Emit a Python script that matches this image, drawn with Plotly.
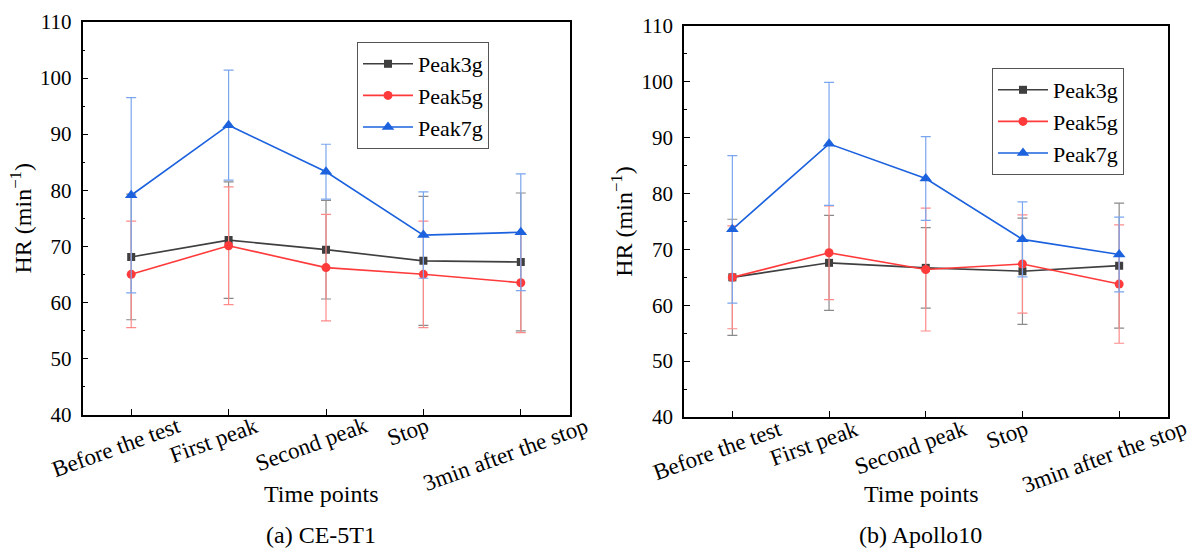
import plotly.graph_objects as go

categories = ["Before the test", "First peak", "Second peak", "Stop", "3min after the stop"]
series_names = ["Peak3g", "Peak5g", "Peak7g"]

# (a) CE-5T1
a_peak3 = [68.1, 71.1, 69.4, 67.4, 67.2]
a_peak3_sd = [11.2, 10.4, 8.8, 11.5, 12.3]
a_peak5 = [65.0, 70.1, 66.2, 65.0, 63.5]
a_peak5_sd = [9.5, 10.5, 9.5, 9.5, 8.9]
a_peak7 = [79.1, 91.6, 83.3, 72.0, 72.5]
a_peak7_sd = [17.4, 9.8, 4.9, 7.7, 10.4]

# (b) Apollo10
b_peak3 = [65.0, 67.6, 66.7, 66.1, 67.1]
b_peak3_sd = [10.4, 8.5, 7.2, 9.5, 11.2]
b_peak5 = [65.0, 69.4, 66.4, 67.4, 63.8]
b_peak5_sd = [9.2, 8.4, 11.0, 8.8, 10.6]
b_peak7 = [73.6, 88.9, 82.7, 71.8, 69.1]
b_peak7_sd = [13.2, 11.0, 7.5, 6.7, 6.7]

y_tick_vals = [40, 50, 60, 70, 80, 90, 100, 110]
panel_captions = ["(a) CE-5T1", "(b) Apollo10"]
x_title = "Time points"
y_title = "HR (min<sup>−1</sup>)"

FONT = "Liberation Serif"
line_colors = ["#3f3f3f", "#ff3a3a", "#1c62de"]
err_colors = ["#8a8a8a", "#ff8a8a", "#7aa6ef"]
symbols = ["square", "circle", "triangle-up"]
msizes = [8, 9, 11]

W, H = 1200, 548
# plot areas in pixels
areas = [
    dict(x0=82.5, x1=569.5, y0=22, y1=414.5),
    dict(x0=684, x1=1167.5, y0=26, y1=417),
]

fig = go.Figure()

panels = [
    ([a_peak3, a_peak5, a_peak7], [a_peak3_sd, a_peak5_sd, a_peak7_sd]),
    ([b_peak3, b_peak5, b_peak7], [b_peak3_sd, b_peak5_sd, b_peak7_sd]),
]

for p, (vals, sds) in enumerate(panels):
    xa = "x" if p == 0 else "x2"
    ya = "y" if p == 0 else "y2"
    lg = "legend" if p == 0 else "legend2"
    for i in range(3):
        fig.add_trace(go.Scatter(
            x=categories, y=vals[i], name=series_names[i],
            mode="lines+markers",
            line=dict(color=line_colors[i], width=1.6),
            marker=dict(symbol=symbols[i], size=msizes[i], color=line_colors[i]),
            error_y=dict(type="data", array=sds[i], visible=True,
                         color=err_colors[i], thickness=1.2, width=5),
            xaxis=xa, yaxis=ya, legend=lg,
        ))

def xdom(a):
    return [a["x0"] / W, a["x1"] / W]

def ydom(a):
    return [1 - a["y1"] / H, 1 - a["y0"] / H]

axis_common = dict(
    showline=True, linecolor="black", linewidth=1.5, mirror=True,
    showgrid=False, zeroline=False, ticks="inside", tickcolor="black",
    ticklen=6, tickwidth=1.2, automargin=False,
)

for p, a in enumerate(areas):
    sfx = "" if p == 0 else str(p + 1)
    fig.layout["xaxis" + sfx] = dict(
        domain=xdom(a), anchor="y" + sfx, type="category",
        range=[-0.5, 4.5], showticklabels=False, **axis_common,
    )
    fig.layout["yaxis" + sfx] = dict(
        domain=ydom(a), anchor="x" + sfx, range=[40, 110],
        tickvals=y_tick_vals, ticktext=[str(v) for v in y_tick_vals],
        tickfont=dict(family=FONT, size=21, color="black"),
        ticklabelstandoff=5,
        minor=dict(ticks="inside", ticklen=3, tickcolor="black", dtick=5, tick0=40, showgrid=False),
        title=dict(text=y_title, font=dict(family=FONT, size=24, color="black"), standoff=2),
        **axis_common,
    )

annotations = []
for p, a in enumerate(areas):
    sfx = "" if p == 0 else str(p + 1)
    # rotated category labels
    for c in categories:
        annotations.append(dict(
            x=c, xref="x" + sfx, y=1 - a["y1"] / H, yref="paper",
            text=c, showarrow=False, textangle=-20,
            xanchor="center", yanchor="top", xshift=-15, yshift=4,
            font=dict(family=FONT, size=23, color="black"),
        ))
    cx = (a["x0"] + a["x1"]) / 2 / W - 5 / W
    annotations.append(dict(
        x=cx, xref="paper", y=1 - 494 / H, yref="paper", text=x_title,
        showarrow=False, xanchor="center", yanchor="middle",
        font=dict(family=FONT, size=24, color="black"),
    ))
    annotations.append(dict(
        x=cx, xref="paper", y=1 - 535 / H, yref="paper", text=panel_captions[p],
        showarrow=False, xanchor="center", yanchor="middle",
        font=dict(family=FONT, size=24, color="black"),
    ))

legend_common = dict(
    font=dict(family=FONT, size=22, color="black"),
    bgcolor="white", bordercolor="#555555", borderwidth=1,
    xanchor="left", yanchor="top", itemwidth=50, tracegroupgap=0,
)

fig.update_layout(
    template="none",
    width=W, height=H,
    margin=dict(l=0, r=0, t=0, b=0, autoexpand=False),
    paper_bgcolor="white", plot_bgcolor="white",
    showlegend=True,
    legend=dict(x=357 / W, y=1 - 42 / H, **legend_common),
    legend2=dict(x=992 / W, y=1 - 68 / H, **legend_common),
    annotations=annotations,
    font=dict(family=FONT, color="black"),
)

fig.write_html("out.html")
